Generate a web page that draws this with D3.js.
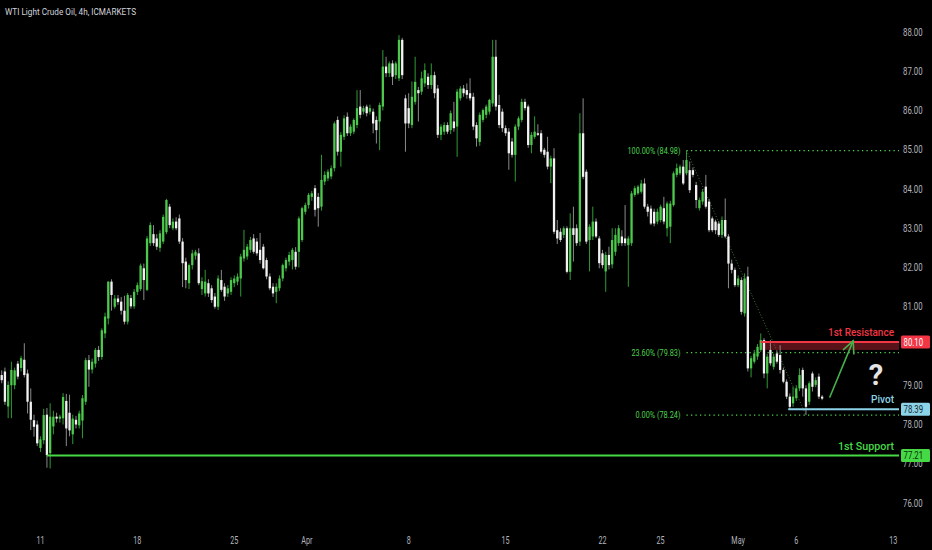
<!DOCTYPE html>
<html><head><meta charset="utf-8">
<script src="https://cdn.jsdelivr.net/npm/d3@7"></script>
<style>html,body{margin:0;padding:0;background:#000;overflow:hidden}svg{display:block}</style>
</head><body><svg id="c" width="932" height="550"></svg>
<script>
const title = "WTI Light Crude Oil, 4h, ICMARKETS";
// [open, high, low, close] per 4h bar
const ohlc = [
[79.26,79.38,79.05,79.13],[79.35,79.45,78.50,78.58],[78.46,79.10,78.16,79.01],[79.00,79.60,78.16,79.39],[79.00,79.45,78.90,79.38],
[79.55,79.62,79.15,79.22],[79.44,79.75,79.35,79.69],[79.65,80.07,79.20,79.26],[79.30,79.40,78.28,78.58],[78.58,78.92,77.86,78.12],
[78.11,78.25,77.69,77.94],[78.00,78.10,77.45,77.52],[77.40,77.70,77.30,77.62],[77.60,78.40,77.50,78.24],[78.25,78.42,76.90,77.22],
[77.27,78.54,76.88,78.20],[77.95,78.35,77.75,78.20],[78.20,78.30,78.05,78.15],[78.15,78.25,78.05,78.20],[78.16,78.80,78.00,78.70],
[78.60,78.78,77.45,77.90],[78.30,78.76,77.70,77.85],[77.75,78.25,77.50,78.15],[78.12,78.22,77.90,78.00],[77.98,78.35,77.90,78.28],
[78.10,78.75,77.65,78.67],[78.58,79.70,78.50,79.64],[79.64,79.77,78.96,79.40],[79.40,79.68,79.30,79.60],[79.55,79.95,79.45,79.90],
[79.90,80.00,79.62,79.72],[79.72,80.45,79.65,80.40],[80.32,80.85,80.20,80.75],[80.70,81.65,80.55,81.64],[81.64,81.70,80.90,81.30],
[81.00,81.30,80.95,81.21],[81.21,81.30,81.05,81.12],[81.13,81.25,80.80,80.90],[80.90,81.28,80.55,80.62],[80.62,81.35,80.55,81.30],
[81.22,81.30,80.95,81.01],[81.01,81.45,80.95,81.38],[81.38,81.62,81.30,81.55],[81.45,82.10,81.40,82.05],[81.98,82.10,81.17,81.68],
[81.43,82.80,81.40,82.74],[82.62,83.15,82.55,83.08],[82.85,83.08,82.55,82.62],[82.74,82.85,82.45,82.53],[82.50,82.95,82.40,82.87],
[82.66,83.35,82.60,83.29],[82.90,83.75,82.85,83.72],[83.55,83.62,83.00,83.08],[83.00,83.25,82.95,83.17],[83.17,83.28,82.95,83.00],
[83.25,83.35,82.60,82.66],[82.66,82.75,81.50,82.11],[82.15,82.25,81.47,81.68],[81.60,82.10,81.45,82.06],[82.06,82.45,81.95,82.36],
[82.30,82.45,82.20,82.40],[82.36,82.49,81.55,81.60],[81.45,81.75,81.30,81.65],[81.34,81.94,81.26,81.64],[81.60,81.70,81.25,81.34],
[81.47,81.55,81.10,81.17],[81.26,81.35,80.95,81.00],[81.00,81.80,80.92,81.72],[81.68,81.94,81.38,81.43],[81.51,81.60,81.15,81.26],
[81.34,81.55,81.25,81.47],[81.38,81.75,81.30,81.68],[81.60,81.80,81.50,81.72],[81.64,81.85,81.55,81.77],[81.72,82.35,81.26,82.28],
[82.23,82.96,82.15,82.45],[82.28,82.60,82.20,82.53],[82.45,82.78,82.38,82.70],[82.74,82.85,82.35,82.40],[82.66,82.75,82.30,82.36],
[82.45,82.88,82.10,82.19],[82.53,82.60,81.95,81.98],[82.19,82.25,81.70,81.77],[81.77,81.85,81.42,81.47],[81.51,81.60,81.25,81.34],
[81.38,81.60,81.09,81.51],[81.47,81.80,81.40,81.72],[81.72,82.10,81.65,82.06],[81.98,82.25,81.90,82.19],[82.15,82.40,82.05,82.32],
[82.19,82.50,81.95,82.45],[82.40,82.52,81.95,82.02],[82.40,83.30,82.00,83.25],[82.70,83.55,82.65,83.51],[83.42,83.65,83.35,83.59],
[83.59,83.90,83.50,83.85],[83.80,83.95,83.70,83.89],[84.02,84.10,83.30,83.47],[83.80,83.90,83.04,83.51],[83.55,84.87,83.45,84.23],
[84.19,84.45,84.10,84.36],[84.27,84.50,84.20,84.44],[84.32,84.60,84.25,84.53],[84.53,85.72,84.45,85.67],[85.76,85.85,84.85,84.95],
[84.95,85.45,84.57,85.38],[85.33,85.88,85.25,85.80],[85.84,85.95,85.35,85.42],[85.42,85.65,85.35,85.59],[85.46,85.80,85.40,85.76],
[85.63,86.52,85.55,86.06],[86.10,86.52,85.80,85.89],[85.97,86.12,85.90,86.06],[86.10,86.15,85.85,85.93],[85.97,86.15,85.90,86.06],
[85.97,86.05,85.42,85.67],[85.76,85.85,85.16,85.50],[85.72,86.20,84.99,86.14],[86.10,87.54,86.00,87.12],[87.12,87.37,86.85,86.95],
[86.95,87.25,86.85,87.20],[87.20,87.28,86.65,86.86],[86.90,87.25,86.80,87.20],[86.82,87.92,86.75,87.80],[87.80,87.85,86.80,86.90],
[86.31,86.40,84.95,85.67],[86.06,86.44,85.55,85.67],[85.63,86.74,85.55,86.35],[86.22,87.37,86.15,86.73],[86.52,86.60,85.72,86.44],
[86.48,86.99,86.40,86.82],[86.69,87.20,86.60,87.03],[86.86,86.95,86.55,86.65],[86.65,87.20,86.55,86.90],[86.90,86.99,86.31,86.44],
[86.56,86.65,85.30,85.38],[85.38,85.65,85.25,85.59],[85.46,85.70,85.38,85.63],[85.63,85.70,85.40,85.46],[85.50,86.00,85.40,85.93],
[85.72,86.22,85.46,85.55],[85.59,86.55,84.82,86.48],[86.31,86.62,86.25,86.56],[86.56,86.65,86.35,86.44],[86.52,86.69,86.30,86.40],
[86.44,86.82,86.25,86.31],[86.35,86.45,85.50,85.59],[85.63,85.70,85.08,85.29],[85.20,85.95,85.10,85.89],[85.76,86.05,85.70,86.01],
[85.89,86.15,85.80,86.10],[85.97,86.30,85.90,86.27],[86.18,87.80,86.10,87.37],[87.37,87.80,86.00,86.10],[86.14,86.40,85.55,85.63],
[85.97,86.05,85.45,85.55],[85.55,85.62,85.35,85.42],[85.46,85.55,84.49,84.91],[85.21,85.30,84.80,84.87],[84.87,85.65,84.19,85.59],
[85.59,85.85,85.50,85.80],[85.76,86.30,85.70,86.22],[86.22,86.30,86.00,86.06],[86.10,86.15,85.05,85.12],[85.12,85.45,84.91,85.38],
[85.33,85.85,85.28,85.46],[85.42,85.65,85.35,85.38],[85.42,85.50,84.90,84.95],[85.00,85.05,84.80,84.87],[84.95,85.33,84.50,84.57],
[84.57,84.85,84.15,84.78],[84.78,85.04,82.85,82.91],[82.95,83.21,82.60,82.74],[82.91,83.00,82.65,82.70],[82.83,83.05,82.75,83.00],
[83.00,83.05,81.85,81.89],[81.89,83.38,81.68,83.00],[83.00,83.55,82.15,82.83],[83.00,83.10,82.55,82.62],[82.66,85.93,82.55,85.42],
[85.42,86.31,84.25,84.31],[84.44,84.50,82.60,82.66],[82.70,83.10,81.90,83.04],[82.79,83.55,82.70,83.17],[83.17,83.25,82.75,82.79],
[82.74,82.80,81.98,82.11],[82.36,82.45,81.98,82.06],[81.90,82.40,81.38,82.32],[82.32,82.53,81.95,82.06],[82.08,83.00,81.98,82.70],
[82.40,83.00,82.30,82.83],[82.62,83.08,82.55,83.00],[82.79,82.95,82.55,82.62],[82.74,83.59,82.55,82.62],[82.57,82.80,81.51,82.74],
[82.62,83.95,82.55,83.89],[83.85,84.08,83.80,84.02],[83.89,84.10,83.85,84.06],[83.93,84.23,83.88,84.14],[84.14,84.27,83.50,83.55],
[83.55,83.62,83.30,83.42],[83.50,83.58,83.08,83.12],[83.42,83.50,83.05,83.12],[83.17,83.50,83.10,83.42],[83.21,83.60,83.15,83.55],
[83.51,83.80,83.10,83.17],[83.00,83.68,82.79,83.63],[83.04,83.70,82.62,83.63],[83.59,84.45,83.55,84.40],[84.36,84.65,84.30,84.53],
[84.40,84.62,84.35,84.57],[84.57,84.74,84.10,84.14],[84.40,84.98,84.35,84.74],[84.48,84.70,83.90,83.97],[84.48,84.55,84.30,84.36],
[84.10,84.18,83.51,83.72],[83.51,83.78,83.45,83.72],[83.68,84.00,83.60,83.93],[84.06,84.36,83.50,83.55],[83.68,83.75,82.90,82.95],
[83.25,83.30,82.90,82.95],[83.17,83.22,82.85,82.95],[83.12,83.18,82.78,82.83],[82.83,83.30,82.75,83.21],[83.21,83.76,82.75,82.79],
[82.79,82.85,81.47,82.10],[82.10,82.20,81.85,81.94],[81.94,82.00,81.50,81.55],[81.55,81.80,81.50,81.72],[81.68,81.75,80.80,80.87],
[80.83,81.85,80.75,81.72],[81.77,82.02,79.35,79.43],[79.43,79.75,79.20,79.69],[79.60,79.90,79.55,79.81],[79.73,80.05,79.65,79.98],
[79.90,80.32,79.85,80.15],[80.15,80.20,79.18,79.30],[79.30,79.80,78.92,79.73],[79.90,80.15,79.50,79.56],[79.47,79.80,79.40,79.73],
[79.81,79.88,79.55,79.60],[79.77,80.02,79.30,79.39],[79.39,79.45,79.05,79.09],[79.09,79.15,78.65,78.71],[78.71,78.79,78.39,78.45],
[78.54,78.96,78.45,78.71],[78.67,79.00,78.60,78.92],[78.92,79.43,78.85,79.26],[79.39,79.45,78.71,78.92],[78.92,79.00,78.24,78.45],
[78.58,79.10,78.50,79.05],[79.30,79.35,78.84,78.96],[79.01,79.20,78.95,79.13],[79.22,79.30,78.65,78.71],[78.71,78.75,78.62,78.66]
];
const priceTicks = [76,77,78,79,81,82,83,84,85,86,87,88];
const timeLabels = ["11","18","25","Apr","8","15","22","25","May","6","13"];
const timeTickBars = [12,42,72,94.5,126,156,186,204,228,246,276];
const levelNames = ["1st Resistance","Pivot","1st Support"];
const levelValues = [80.10, 78.39, 77.21];
const levelStartBars = [235, 243.5, 14];
const resistanceZoneLow = 79.90;
const fibLabels = ["100.00%","23.60%","0.00%"];
const fibValues = [84.98, 79.83, 78.24];
const fibStartBar = 212;
const trendFrom = [212, 84.98], trendTo = [249, 78.24];
const arrowFrom = [256.4, 78.70], arrowTo = [263.6, 80.13];
const questionAt = [270.7, 79.0];

const W = 932, H = 550, plotRight = 899;
const svg = d3.select("#c");
svg.append("rect").attr("width",W).attr("height",H).attr("fill","#000");
const x = d3.scaleLinear().domain([0,276]).range([1.7, 1.7+276*3.23]);
const y = d3.scaleLinear().domain([76,88]).range([503,32]);
const FONT = "Roboto, 'Noto Sans', sans-serif";
const levelColors = ["#f23645","#8dd3e8","#45d945"];
const tagText = ["#ffffff","#0d2a33","#0b2f0b"];
const greenText = "#4ed24e";

function ctext(g, px, py, str, size, fill, anchor, sx, weight){
  return g.append("text").attr("transform",`translate(${px},${py}) scale(${sx},1)`)
    .attr("font-family",FONT).attr("font-size",size).attr("fill",fill)
    .attr("font-weight",weight||400).attr("text-anchor",anchor||"start").text(str);
}

// title
svg.append("text").attr("x",5).attr("y",15).attr("font-family",FONT).attr("font-size",9.5)
  .attr("fill","#d1d4dc").attr("textLength",131).attr("lengthAdjust","spacingAndGlyphs").text(title);

// price axis labels
const axisG = svg.append("g");
priceTicks.forEach(v=>ctext(axisG, 903, y(v)+3.5, v.toFixed(2), 10, "#b2b5be", "start", 0.78));
// time axis labels
timeTickBars.forEach((b,k)=>ctext(axisG, x(b), 544, timeLabels[k], 10, "#b2b5be", "middle", 0.72));

// resistance zone
const rz = svg.append("g");
rz.append("rect").attr("x",x(levelStartBars[0])).attr("width",plotRight-x(levelStartBars[0]))
  .attr("y",y(levelValues[0])).attr("height",y(resistanceZoneLow)-y(levelValues[0])).attr("fill","#5a1219");

// fib dotted lines + labels
const fg = svg.append("g");
fibValues.forEach((v,k)=>{
  fg.append("line").attr("x1",x(fibStartBar)).attr("x2",plotRight).attr("y1",y(v)).attr("y2",y(v))
    .attr("stroke",greenText).attr("stroke-width",1.2).attr("stroke-dasharray","1.3,3.2");
  const lbl = `${fibLabels[k]} (${v.toFixed(2)})`;
  fg.append("text").attr("x",x(fibStartBar)-6).attr("y",y(v)+3).attr("text-anchor","end")
    .attr("font-family",FONT).attr("font-size",9).attr("fill",greenText)
    .attr("textLength",[53,49,45][k]).attr("lengthAdjust","spacingAndGlyphs").text(lbl);
});
// trend line
svg.append("line").attr("x1",x(trendFrom[0])).attr("y1",y(trendFrom[1])).attr("x2",x(trendTo[0])).attr("y2",y(trendTo[1]))
  .attr("stroke","#3f8a3f").attr("stroke-width",0.9).attr("stroke-dasharray","1,2");

// candles
const cg = svg.append("g");
ohlc.forEach((d,i)=>{
  const [o,h,l,c] = d, up = c>=o, cx = x(i);
  cg.append("rect").attr("x",cx-0.5).attr("width",1).attr("y",y(h)).attr("height",Math.max(1,y(l)-y(h)))
    .attr("fill", up ? "#2f9a35" : "#8a8a8a");
  const top = y(Math.max(o,c)), bot = y(Math.min(o,c));
  cg.append("rect").attr("x",cx-1.15).attr("width",2.3).attr("y",top).attr("height",Math.max(1,bot-top))
    .attr("fill", up ? "#4cc94c" : "#f2f2f2");
});

// levels
const lg = svg.append("g");
levelValues.forEach((v,k)=>{
  lg.append("line").attr("x1",x(levelStartBars[k])).attr("x2",plotRight).attr("y1",y(v)).attr("y2",y(v))
    .attr("stroke",levelColors[k]).attr("stroke-width",2);
  lg.append("text").attr("x",894).attr("y",y(v)-6).attr("text-anchor","end")
    .attr("font-family",FONT).attr("font-size",10.5).attr("font-weight",500).attr("fill",levelColors[k])
    .attr("textLength",[66,23,56][k]).attr("lengthAdjust","spacingAndGlyphs").text(levelNames[k]);
  lg.append("rect").attr("x",901).attr("y",y(v)-6.5).attr("width",29).attr("height",13).attr("rx",1.5)
    .attr("fill",levelColors[k]);
  ctext(lg, 903.5, y(v)+3.6, v.toFixed(2), 10, tagText[k], "start", 0.78);
});

// arrow
const ax1 = x(arrowFrom[0]), ay1 = y(arrowFrom[1]), ax2 = x(arrowTo[0]), ay2 = y(arrowTo[1]);
const ang = Math.atan2(ay2-ay1, ax2-ax1), hl = 13, ha = 0.45;
const ag = svg.append("g").attr("stroke","#45b34b").attr("stroke-width",1.6).attr("fill","none").attr("stroke-linecap","round");
ag.append("line").attr("x1",ax1).attr("y1",ay1).attr("x2",ax2).attr("y2",ay2);
ag.append("polyline").attr("points",[
  [ax2-hl*Math.cos(ang-ha), ay2-hl*Math.sin(ang-ha)],[ax2,ay2],[ax2-hl*Math.cos(ang+ha), ay2-hl*Math.sin(ang+ha)]
].map(p=>p.join(",")).join(" "));

// question mark
svg.append("text").attr("x",x(questionAt[0])).attr("y",y(questionAt[1])).attr("text-anchor","middle")
  .attr("font-family",FONT).attr("font-size",29).attr("font-weight",700).attr("fill","#e4e4e4").text("?");
</script></body></html>
